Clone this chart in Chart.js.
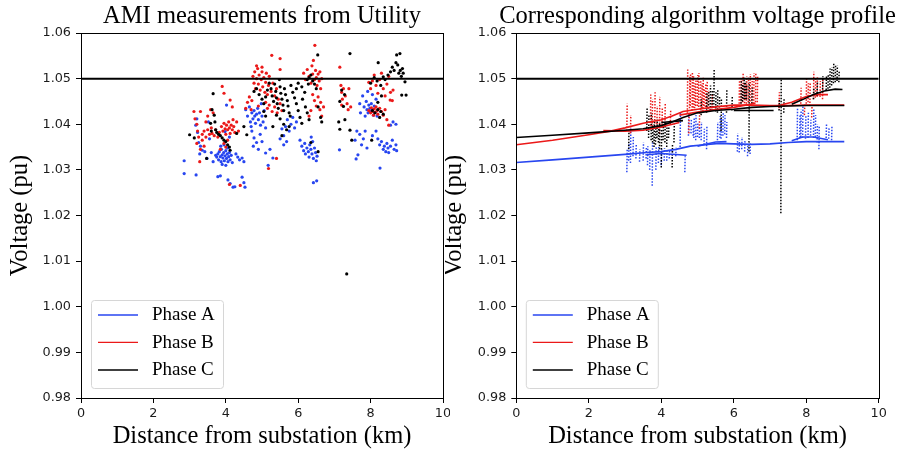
<!DOCTYPE html>
<html><head><meta charset="utf-8">
<script src="https://cdn.jsdelivr.net/npm/chart.js@4/dist/chart.umd.min.js"></script>
<style>
html,body{margin:0;padding:0;background:#fff}
#wrap{position:relative;width:901px;height:454px;overflow:hidden;background:#fff}
canvas{position:absolute;top:0}
</style>
</head><body>
<div id="wrap">
<canvas id="c1" width="450" height="454" style="left:0"></canvas>
<canvas id="c2" width="456" height="454" style="left:445px"></canvas>
</div>
<script>
// ---------- text & ticks ----------
const titles = ['AMI measurements from Utility', 'Corresponding algorithm voltage profile'];
const xLabel = 'Distance from substation (km)';
const yLabel = 'Voltage (pu)';
const phaseNames = ['Phase A', 'Phase B', 'Phase C'];
const phaseColors = ['rgb(40,70,240)', 'rgb(235,25,25)', 'rgb(0,0,0)'];
const xTicks = [0, 2, 4, 6, 8, 10];
const yTicks = [0.98, 0.99, 1.00, 1.01, 1.02, 1.03, 1.04, 1.05, 1.06];
const voltageLimit = 1.05;

// ---------- left panel: AMI measurements [km, pu] ----------
const amiPhaseA = [
[2.85,1.0320],[2.85,1.0292],[3.18,1.0289],[3.20,1.0412],[3.17,1.0398],[3.22,1.0382],[3.25,1.0360],[3.30,1.0352],[3.35,1.0343],[3.28,1.0335],[3.42,1.0340],[3.48,1.0325],[3.55,1.0368],[3.52,1.0405],[3.60,1.0338],[3.65,1.0318],
[3.72,1.0332],[3.75,1.0328],[3.78,1.0335],[3.80,1.0322],[3.82,1.0340],[3.85,1.0329],[3.87,1.0318],[3.88,1.0345],[3.90,1.0333],[3.92,1.0326],[3.94,1.0338],[3.96,1.0320],[3.98,1.0331],[4.00,1.0342],[4.02,1.0325],[4.04,1.0335],[4.06,1.0318],[4.08,1.0329],[4.10,1.0338],[4.12,1.0322],[4.15,1.0332],[4.18,1.0316],[3.86,1.0352],[3.95,1.0355],[4.05,1.0348],[3.90,1.0312],[4.00,1.0310],
[3.98,1.0384],[4.02,1.0442],[4.10,1.0372],
[4.28,1.0335],[4.33,1.0328],[4.38,1.0322],[4.45,1.0326],[4.50,1.0318],
[3.78,1.0285],[3.85,1.0287],[4.06,1.0278],[4.12,1.0270],[4.20,1.0262],[4.25,1.0263],[4.45,1.0284],[4.50,1.0272],[4.53,1.0262],
[4.55,1.0432],[4.60,1.0418],[4.65,1.0438],[4.68,1.0405],[4.72,1.0425],[4.75,1.0412],[4.78,1.0430],[4.80,1.0418],[4.82,1.0402],[4.85,1.0422],[4.88,1.0435],[4.90,1.0410],[4.93,1.0425],[4.96,1.0398],[5.00,1.0418],[5.03,1.0405],[5.06,1.0430],[5.10,1.0392],[4.70,1.0395],[4.98,1.0445],
[4.72,1.0385],[4.78,1.0370],[4.85,1.0360],[4.90,1.0345],[4.95,1.0378],[5.00,1.0362],[4.76,1.0352],[5.17,1.0310],[5.30,1.0326],[5.10,1.0337],[5.22,1.0345],
[5.50,1.0368],[5.55,1.0390],[5.60,1.0375],[5.65,1.0395],[5.70,1.0410],[5.75,1.0385],[5.80,1.0400],[5.85,1.0415],[5.90,1.0392],[5.95,1.0405],[5.60,1.0355],[5.68,1.0362],
[6.05,1.0365],[6.10,1.0352],[6.15,1.0342],[6.18,1.0358],[6.20,1.0335],[6.24,1.0348],[6.28,1.0340],[6.30,1.0328],[6.32,1.0355],[6.35,1.0345],[6.38,1.0335],[6.40,1.0362],[6.42,1.0325],[6.45,1.0348],[6.48,1.0338],[6.50,1.0320],[6.52,1.0330],[6.36,1.0372],[6.42,1.0272],[6.51,1.0276],
[7.14,1.0344],[7.57,1.0365],[7.60,1.0324],[7.65,1.0333],[7.62,1.0385],[7.70,1.0378],[7.75,1.0355],[7.80,1.0368],[7.85,1.0385],[7.90,1.0348],
[7.70,1.0445],[7.72,1.0425],[7.78,1.0462],[7.82,1.0438],[7.85,1.0418],[7.88,1.0450],[7.90,1.0432],[7.93,1.0425],[7.95,1.0442],[7.98,1.0435],[8.00,1.0428],[8.02,1.0445],[8.05,1.0432],[8.08,1.0420],[8.10,1.0440],[8.12,1.0426],[8.15,1.0455],[8.18,1.0418],[7.92,1.0472],[8.05,1.0465],
[8.20,1.0368],[8.25,1.0355],[8.30,1.0362],[8.35,1.0345],[8.38,1.0352],[8.42,1.0340],[8.45,1.0358],[8.48,1.0348],[8.50,1.0338],[8.55,1.0352],[8.60,1.0365],[8.65,1.0345],[8.70,1.0355],[8.72,1.0342],[8.55,1.0398],[8.62,1.0405],[8.70,1.0400],[8.26,1.0304],[8.05,1.0375],[8.15,1.0385]
];
const amiPhaseB = [
[3.12,1.0428],[3.15,1.0412],[3.20,1.0400],[3.22,1.0385],[3.25,1.0372],[3.20,1.0358],[3.30,1.0345],[3.28,1.0318],[3.35,1.0365],[3.40,1.0352],[3.30,1.0428],
[3.35,1.0378],[3.40,1.0385],[3.45,1.0372],[3.50,1.0388],[3.55,1.0378],[3.60,1.0392],[3.62,1.0380],[3.68,1.0375],[3.72,1.0388],[3.78,1.0372],[3.82,1.0382],[3.50,1.0418],[3.58,1.0432],[3.65,1.0425],[3.45,1.0405],
[3.88,1.0395],[3.92,1.0385],[3.95,1.0402],[3.98,1.0390],[4.00,1.0378],[4.02,1.0398],[4.05,1.0388],[4.08,1.0405],[4.10,1.0392],[4.12,1.0380],[4.15,1.0398],[4.18,1.0388],[4.20,1.0410],[4.22,1.0395],[4.25,1.0382],[3.90,1.0483],[3.95,1.0468],[4.12,1.0453],[4.18,1.0438],[4.30,1.0405],[4.35,1.0385],[3.95,1.0358],[4.00,1.0350],[4.05,1.0365],[4.10,1.0268],[4.40,1.0266],[3.85,1.0345],
[4.55,1.0435],[4.60,1.0448],[4.65,1.0460],[4.70,1.0432],[4.72,1.0452],
[4.75,1.0505],[4.78,1.0490],[4.80,1.0515],[4.82,1.0478],[4.85,1.0500],[4.88,1.0522],[4.90,1.0488],[4.92,1.0508],[4.95,1.0475],[4.98,1.0498],[5.00,1.0515],[5.02,1.0482],[5.05,1.0502],[5.08,1.0470],[5.10,1.0492],[5.12,1.0512],[5.15,1.0465],[5.18,1.0485],[5.20,1.0505],[5.25,1.0472],[5.30,1.0490],[5.35,1.0462],[5.40,1.0478],[5.45,1.0455],[4.85,1.0528],[5.00,1.0525],[5.27,1.0551],[5.50,1.0544],[5.50,1.0520],
[5.10,1.0448],[5.15,1.0435],[5.20,1.0442],[5.28,1.0428],[5.35,1.0438],[5.42,1.0425],[5.50,1.0445],[5.55,1.0430],[5.40,1.0325],[5.18,1.0303],[4.90,1.0440],
[6.15,1.0512],[6.20,1.0498],[6.25,1.0520],[6.30,1.0505],[6.35,1.0490],[6.38,1.0528],[6.40,1.0510],[6.42,1.0540],[6.45,1.0498],[6.48,1.0518],[6.50,1.0502],[6.52,1.0485],[6.55,1.0510],[6.58,1.0495],[6.60,1.0515],[6.62,1.0478],[6.65,1.0500],[6.46,1.0573],[6.40,1.0465],[6.45,1.0452],[6.50,1.0440],[6.55,1.0460],[6.60,1.0432],[6.62,1.0448],[6.65,1.0418],[6.70,1.0438],[6.35,1.0430],[6.30,1.0418],
[7.15,1.0525],[7.18,1.0485],[7.20,1.0470],[7.22,1.0455],[7.25,1.0478],[7.30,1.0462],[7.35,1.0445],[7.38,1.0432],[7.40,1.0478],[7.45,1.0438],[7.20,1.0442],
[7.95,1.0492],[8.00,1.0478],[8.05,1.0495],[8.10,1.0508],[8.15,1.0485],[8.20,1.0468],[8.25,1.0498],[8.30,1.0512],[8.35,1.0478],[8.40,1.0462],[8.45,1.0488],[8.50,1.0505],[8.55,1.0470],[8.60,1.0452],[8.62,1.0475],[8.54,1.0453],
[7.95,1.0430],[8.00,1.0425],[8.02,1.0436],[8.05,1.0428],[8.08,1.0420],[8.10,1.0434],[8.12,1.0426],[8.15,1.0438],[8.18,1.0430],[8.20,1.0422],[8.25,1.0435],[8.30,1.0428],[8.35,1.0420],[8.40,1.0432],[8.45,1.0410],[8.50,1.0398]
];
const amiPhaseC = [
[3.00,1.0377],[3.13,1.0370],[3.47,1.0325],[3.65,1.0467],[3.62,1.0432],[3.68,1.0420],[3.70,1.0405],[3.72,1.0388],[3.75,1.0382],[3.80,1.0378],[3.85,1.0375],[3.90,1.0370],[3.95,1.0365],[4.00,1.0362],[4.05,1.0355],[4.10,1.0350],[3.58,1.0402],[3.60,1.0385],[4.12,1.0343],[4.30,1.0380],[4.58,1.0377],[4.50,1.0395],
[4.78,1.0472],[4.85,1.0478],[4.92,1.0465],[5.00,1.0455],
[5.05,1.0445],[5.10,1.0460],[5.15,1.0475],[5.20,1.0490],[5.25,1.0478],[5.28,1.0462],[5.32,1.0450],[5.35,1.0488],[5.38,1.0472],[5.40,1.0458],[5.42,1.0445],[5.45,1.0435],[5.48,1.0498],[5.50,1.0482],[5.52,1.0468],[5.55,1.0455],[5.58,1.0442],[5.60,1.0430],[5.62,1.0478],[5.65,1.0465],[5.70,1.0452],[5.72,1.0440],[5.75,1.0425],[5.78,1.0418],[5.80,1.0485],[5.85,1.0470],[5.90,1.0458],[5.40,1.0420],[5.50,1.0412],[5.60,1.0400],[5.30,1.0395],[5.10,1.0418],[5.05,1.0428],[5.68,1.0388],[5.75,1.0395],[5.55,1.0375],
[5.95,1.0445],[6.00,1.0430],[6.05,1.0415],[6.10,1.0402],[6.12,1.0455],[6.18,1.0470],[6.20,1.0438],[6.25,1.0425],[6.30,1.0410],[6.10,1.0482],[6.00,1.0490],[5.95,1.0478],[6.25,1.0498],[6.30,1.0502],[6.35,1.0508],[6.40,1.0495],[6.28,1.0488],[6.45,1.0488],[6.50,1.0478],[6.54,1.0552],[6.55,1.0438],[6.62,1.0415],[6.65,1.0405],[6.35,1.0360],[6.55,1.0340],
[7.12,1.0405],[7.15,1.0389],[7.15,1.0450],[7.20,1.0475],[7.25,1.0439],[7.29,1.0410],[7.43,1.0387],[7.48,1.0365],[7.43,1.0555],[7.34,1.0072],[7.28,1.0465],
[8.05,1.0430],[8.12,1.0425],[8.20,1.0432],[8.28,1.0428],[8.35,1.0422],
[8.00,1.0490],[8.10,1.0502],[8.18,1.0495],[8.21,1.0535],[8.28,1.0485],[8.35,1.0504],[8.40,1.0498],[8.48,1.0508],[8.55,1.0515],[8.60,1.0525],[8.65,1.0518],[8.70,1.0535],[8.72,1.0552],[8.75,1.0530],[8.78,1.0512],[8.81,1.0555],[8.82,1.0518],[8.85,1.0505],[8.88,1.0522],[8.90,1.0512],[8.95,1.0493],[8.86,1.0464],[8.98,1.0464],[8.03,1.0365],[8.25,1.0415],[8.20,1.0448],[8.30,1.0462]
];

// ---------- right panel: algorithm profile polylines [km, pu] ----------
const profileA = [
  [[0,1.0316],[1,1.0322],[2,1.0328],[3,1.0334],[3.6,1.0338],[4.0,1.0340],[4.4,1.0345],[4.8,1.0352],[5.2,1.0355],[5.6,1.0358],[6.0,1.0357],[6.5,1.0356],[7.0,1.0357],[7.5,1.0360],[8.0,1.0362],[9.05,1.0362]],
  [[3.6,1.0333],[4.0,1.0336],[4.7,1.0332]],
  [[5.0,1.0352],[5.5,1.0361],[5.8,1.0362]],
  [[7.6,1.0364],[7.9,1.0372],[8.2,1.0372],[8.6,1.0366]]
];
const profileB = [
  [[0,1.0355],[1,1.0365],[2,1.0377],[2.6,1.0385],[3.0,1.0392],[3.5,1.0402],[4.0,1.0410],[4.3,1.0418],[4.6,1.0428],[5.0,1.0433],[5.5,1.0438],[6.0,1.0442],[6.5,1.0442],[7.0,1.0441],[7.5,1.0441],[8.0,1.0442],[9.05,1.0442]],
  [[2.4,1.0386],[3.0,1.0385],[3.5,1.0387],[4.0,1.0394],[4.5,1.0404]],
  [[4.5,1.0420],[5.0,1.0427],[5.5,1.0432],[6.0,1.0437],[6.6,1.0446]],
  [[7.3,1.0442],[7.6,1.0448],[8.0,1.0461],[8.3,1.0465],[8.6,1.0465]]
];
const profileC = [
  [[0,1.0371],[1,1.0376],[2,1.0381],[3,1.0387],[3.5,1.0390],[4.0,1.0397],[4.3,1.0405],[4.6,1.0415],[5.0,1.0425],[5.5,1.0430],[6.0,1.0433],[6.5,1.0437],[7.0,1.0439],[7.5,1.0440],[8.0,1.0441],[9.05,1.0441]],
  [[6.0,1.0430],[7.1,1.0430]],
  [[4.0,1.0404],[4.6,1.0408]],
  [[7.6,1.0444],[7.9,1.0454],[8.2,1.0465],[8.5,1.0473],[8.8,1.0477],[9.0,1.0476]]
];

// ---------- right panel: dotted excursions [km, low pu, high pu] ----------
const spikesA = [
[3.05,1.0295,1.0345],[3.10,1.0320,1.0360],[3.15,1.0315,1.0395],[3.22,1.0330,1.0372],[3.30,1.0325,1.0355],[3.40,1.0318,1.0345],[3.50,1.0320,1.0360],[3.58,1.0325,1.0350],[3.62,1.0310,1.0352],[3.68,1.0300,1.0345],[3.75,1.0265,1.0360],[3.85,1.0300,1.0350],[3.92,1.0315,1.0350],[4.00,1.0310,1.0345],[4.08,1.0320,1.0348],[4.15,1.0320,1.0345],[4.22,1.0325,1.0342],[4.30,1.0325,1.0345],[4.40,1.0330,1.0350],[4.52,1.0350,1.0427],[4.65,1.0295,1.0330],
[4.75,1.0375,1.0425],[4.82,1.0380,1.0410],[4.88,1.0375,1.0400],[4.90,1.0370,1.0415],[4.95,1.0365,1.0420],[5.00,1.0372,1.0402],[5.05,1.0370,1.0395],[5.10,1.0365,1.0405],[5.18,1.0355,1.0390],[5.25,1.0345,1.0395],[5.55,1.0365,1.0405],[5.62,1.0370,1.0418],[5.65,1.0368,1.0412],[5.70,1.0375,1.0425],[5.75,1.0378,1.0420],[5.80,1.0370,1.0405],
[6.10,1.0340,1.0380],[6.15,1.0338,1.0365],[6.22,1.0345,1.0372],[6.30,1.0340,1.0365],[6.38,1.0330,1.0355],[6.45,1.0335,1.0360],
[7.75,1.0365,1.0435],[7.82,1.0370,1.0420],[7.85,1.0372,1.0432],[7.90,1.0370,1.0440],[7.98,1.0368,1.0418],[8.05,1.0370,1.0425],[8.12,1.0375,1.0410],[8.20,1.0370,1.0435],[8.25,1.0372,1.0420],[8.30,1.0360,1.0400],[8.35,1.0345,1.0395],[8.55,1.0370,1.0400],[8.62,1.0368,1.0392],[8.70,1.0365,1.0395]
];
const spikesB = [
[3.05,1.0385,1.0445],[3.15,1.0380,1.0420],[3.70,1.0390,1.0465],[3.75,1.0395,1.0455],[3.82,1.0395,1.0470],[3.88,1.0400,1.0440],[3.95,1.0380,1.0460],[4.02,1.0392,1.0438],[4.10,1.0395,1.0445],[4.25,1.0400,1.0430],
[4.72,1.0425,1.0520],[4.78,1.0435,1.0505],[4.80,1.0440,1.0512],[4.85,1.0430,1.0515],[4.88,1.0436,1.0505],[4.92,1.0435,1.0490],[4.95,1.0440,1.0500],[5.00,1.0440,1.0508],[5.03,1.0438,1.0512],[5.08,1.0432,1.0495],[5.12,1.0436,1.0490],[5.15,1.0428,1.0502],[5.18,1.0440,1.0480],[5.22,1.0438,1.0490],[5.26,1.0437,1.0495],[5.30,1.0435,1.0475],[5.40,1.0435,1.0468],[4.76,1.0380,1.0425],[5.05,1.0390,1.0425],
[6.15,1.0445,1.0495],[6.20,1.0446,1.0500],[6.25,1.0448,1.0512],[6.30,1.0446,1.0490],[6.35,1.0445,1.0505],[6.40,1.0448,1.0502],[6.45,1.0450,1.0510],[6.50,1.0446,1.0495],[6.55,1.0445,1.0512],[6.60,1.0448,1.0512],[6.65,1.0448,1.0505],
[7.25,1.0435,1.0470],
[7.85,1.0445,1.0480],[8.00,1.0445,1.0500],[8.05,1.0448,1.0490],[8.10,1.0440,1.0490],[8.20,1.0455,1.0515],[8.25,1.0458,1.0500],[8.30,1.0460,1.0505],[8.38,1.0460,1.0495],[8.45,1.0455,1.0500],[7.95,1.0420,1.0445],[8.15,1.0415,1.0440]
];
const spikesC = [
[3.10,1.0345,1.0390],[3.60,1.0385,1.0435],[3.65,1.0370,1.0420],[3.72,1.0365,1.0425],[3.76,1.0360,1.0400],[3.80,1.0350,1.0410],[3.84,1.0355,1.0395],[3.88,1.0370,1.0410],[3.92,1.0360,1.0400],[3.95,1.0345,1.0405],[4.00,1.0305,1.0390],[4.05,1.0365,1.0395],[4.10,1.0360,1.0405],[4.15,1.0350,1.0398],[4.20,1.0370,1.0395],[4.30,1.0305,1.0355],[4.35,1.0360,1.0400],
[5.10,1.0420,1.0455],[5.25,1.0425,1.0468],[5.30,1.0428,1.0470],[5.35,1.0430,1.0485],[5.40,1.0430,1.0475],[5.45,1.0430,1.0522],[5.50,1.0428,1.0470],[5.55,1.0425,1.0478],[5.60,1.0430,1.0460],[5.65,1.0385,1.0455],[5.80,1.0425,1.0475],[5.95,1.0430,1.0460],
[6.20,1.0445,1.0495],[6.24,1.0450,1.0488],[6.28,1.0455,1.0502],[6.32,1.0455,1.0495],[6.35,1.0455,1.0485],[6.42,1.0340,1.0492],[6.50,1.0445,1.0480],
[7.25,1.0430,1.0455],[7.30,1.0205,1.0500],[7.38,1.0425,1.0458],
[8.20,1.0455,1.0478],[8.30,1.0462,1.0495],[8.45,1.0470,1.0505],[8.55,1.0475,1.0505],[8.60,1.0478,1.0510],[8.65,1.0480,1.0522],[8.70,1.0485,1.0525],[8.75,1.0490,1.0535],[8.80,1.0492,1.0530],[8.85,1.0495,1.0528],[8.90,1.0492,1.0515]
];

// ---------- helpers ----------
const toXY = arr => arr.map(p => ({x: p[0], y: p[1]}));
function spikeData(list) {
  const out = [];
  list.forEach(s => { out.push({x: s[0], y: s[1]}); out.push({x: s[0] + 0.01, y: s[2]}); out.push({x: s[0] + 0.01, y: null}); });
  return out;
}
const limitData = [{x: xTicks[0], y: voltageLimit}, {x: xTicks[xTicks.length - 1], y: voltageLimit}];

const SERIF = '"Liberation Serif", "Times New Roman", serif';
const SANS = '"DejaVu Sans", sans-serif';

const panelPlugin = {
  id: 'panelDeco',
  afterDraw(chart, args, opts) {
    const {ctx, chartArea: a} = chart;
    ctx.save();
    ctx.strokeStyle = '#000'; ctx.lineWidth = 1;
    ctx.strokeRect(Math.round(a.left) + 0.5, Math.round(a.top) + 0.5, Math.round(a.right) - Math.round(a.left), Math.round(a.bottom) - Math.round(a.top));
    ctx.fillStyle = '#000';
    ctx.font = '24.5px ' + SERIF;
    ctx.textAlign = 'center'; ctx.textBaseline = 'alphabetic';
    ctx.fillText(opts.title, (a.left + a.right) / 2, 23);
    const bx = a.left + opts.legendDx, by = a.bottom - 98, bw = 132, bh = 88;
    ctx.beginPath();
    ctx.roundRect(bx + 0.5, by + 0.5, bw, bh, 3);
    ctx.fillStyle = 'rgba(255,255,255,0.85)'; ctx.fill();
    ctx.strokeStyle = '#d6d6d6'; ctx.lineWidth = 1; ctx.stroke();
    const rows = [15, 42.3, 70];
    ctx.font = '19px ' + SERIF; ctx.textAlign = 'left'; ctx.textBaseline = 'middle';
    phaseNames.forEach((name, i) => {
      const y = by + rows[i];
      ctx.beginPath(); ctx.moveTo(bx + 7, y); ctx.lineTo(bx + 47, y);
      ctx.strokeStyle = phaseColors[i]; ctx.lineWidth = 1.3; ctx.stroke();
      ctx.fillStyle = '#000'; ctx.fillText(name, bx + 61, y + 0.5);
    });
    ctx.restore();
  }
};

function makeOptions(cfg) {
  return {
    responsive: false, animation: false, devicePixelRatio: 1,
    layout: {padding: {left: 0, right: cfg.padRight, top: 33, bottom: 0}},
    plugins: {legend: {display: false}, tooltip: {enabled: false}, title: {display: false},
      panelDeco: {title: cfg.title, legendDx: cfg.legendDx}},
    elements: {point: {radius: 0}},
    scales: {
      x: {
        type: 'linear', min: xTicks[0], max: xTicks[xTicks.length - 1],
        afterBuildTicks: s => { s.ticks = xTicks.map(v => ({value: v})); },
        afterFit: s => { s.height = 56; s.paddingLeft = 0; s.paddingRight = 0; },
        ticks: {callback: v => String(v), font: {family: SANS, size: 12.8}, color: '#1a1a1a', padding: 3, maxRotation: 0, autoSkip: false},
        grid: {display: true, drawOnChartArea: false, drawTicks: true, tickLength: 5, tickColor: '#000'},
        border: {display: true, color: '#000', width: 1},
        title: {display: true, text: xLabel, font: {family: SERIF, size: 24.5, lineHeight: 1}, color: '#000', padding: {top: 0, bottom: 5}}
      },
      y: {
        type: 'linear', min: yTicks[0], max: yTicks[yTicks.length - 1],
        afterBuildTicks: s => { s.ticks = yTicks.map(v => ({value: v})); },
        afterFit: s => { s.width = cfg.yWidth; s.paddingTop = 0; s.paddingBottom = 0; },
        ticks: {callback: v => Number(v).toFixed(2), font: {family: SANS, size: 12.8}, color: '#1a1a1a', padding: 5, autoSkip: false},
        grid: {display: true, drawOnChartArea: false, drawTicks: true, tickLength: 5, tickColor: '#000'},
        border: {display: true, color: '#000', width: 1},
        title: {display: true, text: yLabel, font: {family: SERIF, size: 24.5, lineHeight: 1}, color: '#000', padding: {top: cfg.yTitlePad, bottom: 0}}
      }
    }
  };
}

const limitDataset = {type: 'line', data: limitData, borderColor: '#000', borderWidth: 2, pointRadius: 0, showLine: true};

// ---------- left chart ----------
const amiSets = [amiPhaseC, amiPhaseB, amiPhaseA];
const amiColors = [phaseColors[2], phaseColors[1], phaseColors[0]];
new Chart(document.getElementById('c1'), {
  type: 'scatter',
  data: {datasets: [limitDataset].concat(amiSets.map((pts, i) => ({
    data: toXY(pts), backgroundColor: amiColors[i], borderWidth: 0, pointRadius: 1.6, pointBorderWidth: 0
  })))},
  options: makeOptions({title: titles[0], padRight: 7, yWidth: 81, yTitlePad: 8.5, legendDx: 10}),
  plugins: [panelPlugin]
});

// ---------- right chart ----------
const rightSets = [{...limitDataset, data: limitData}];
[[profileC, 2], [profileB, 1], [profileA, 0]].forEach(([lines, ci]) => {
  lines.forEach(line => rightSets.push({type: 'line', data: toXY(line), borderColor: phaseColors[ci], borderWidth: 1.6, pointRadius: 0, showLine: true, tension: 0}));
});
[[spikesC, 2], [spikesB, 1], [spikesA, 0]].forEach(([sp, ci]) => {
  rightSets.push({type: 'line', data: spikeData(sp), borderColor: phaseColors[ci], borderWidth: 1.5, borderDash: [1.5, 1.5], pointRadius: 0, showLine: true, spanGaps: false});
});
new Chart(document.getElementById('c2'), {
  type: 'scatter',
  data: {datasets: rightSets},
  options: makeOptions({title: titles[1], padRight: 22.3, yWidth: 71.3, yTitlePad: -2.5, legendDx: 9.5}),
  plugins: [panelPlugin]
});
</script>
</body></html>
